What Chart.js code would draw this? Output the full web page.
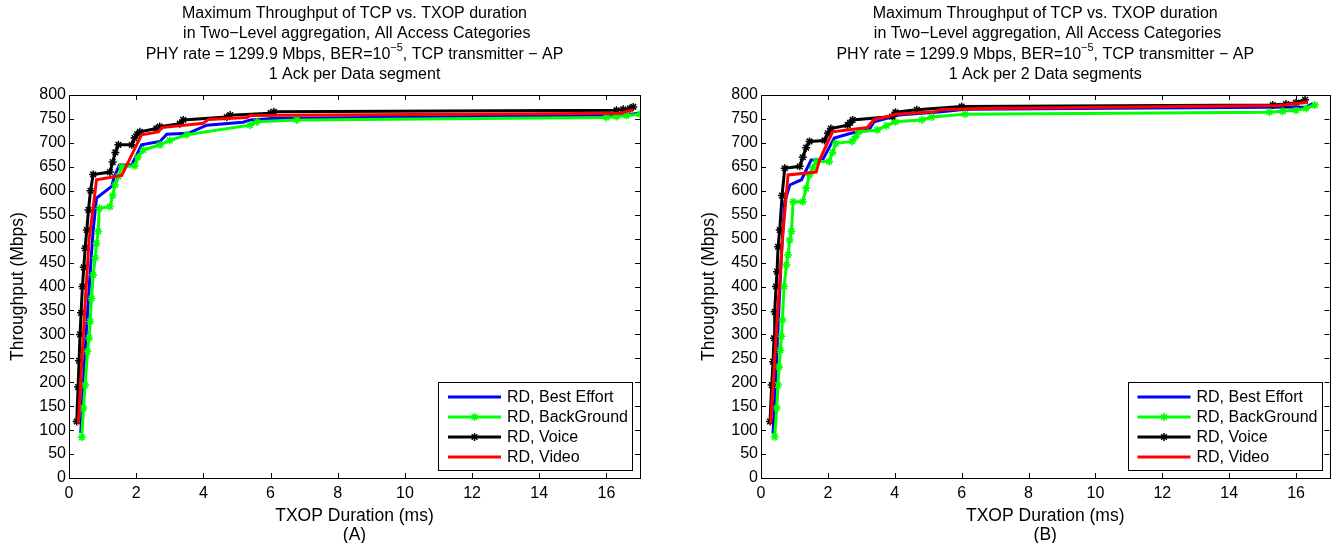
<!DOCTYPE html>
<html>
<head>
<meta charset="utf-8">
<script src="https://cdn.jsdelivr.net/npm/chart.js@4/dist/chart.umd.min.js"></script>
<style>
  html, body { margin: 0; padding: 0; background: #fff; }
  body { width: 1335px; height: 543px; position: relative; overflow: hidden; }
  .box { position: absolute; top: 0; }
</style>
</head>
<body>
<div class="box" style="left:0"><canvas id="chartA" width="660" height="543"></canvas></div>
<div class="box" style="left:680px"><canvas id="chartB" width="655" height="543"></canvas></div>
<script>
'use strict';

var seriesLabels = ['RD, Best Effort', 'RD, BackGround', 'RD, Voice', 'RD, Video'];
var seriesColors = ['#0000ff', '#00ff00', '#000000', '#ff0000'];
var seriesMarkers = [false, true, true, false];

// (A) 1 Ack per Data segment
var beX_A = [0.35, 0.50, 0.63, 0.72, 0.82, 1.27, 1.35, 1.50, 1.87, 2.16, 2.71, 2.91, 3.55, 4.10, 5.18, 5.40, 6.07, 16.5, 17.0];
var beY_A = [94, 290, 428, 518, 585, 609, 630, 654, 654, 696, 703, 718, 720, 737, 743, 748, 751, 758, 762];
var bgX_A = [0.38, 0.43, 0.48, 0.55, 0.60, 0.63, 0.67, 0.72, 0.78, 0.82, 0.87, 0.90, 1.22, 1.30, 1.37, 1.47, 1.57, 1.96, 2.05, 2.21, 2.71, 3.00, 3.50, 5.39, 5.59, 6.78, 16.0, 16.3, 16.6, 17.0];
var bgY_A = [85, 146, 194, 264, 292, 327, 375, 424, 460, 490, 515, 563, 567, 590, 612, 630, 650, 652, 670, 685, 696, 705, 717, 737, 744, 748, 753, 755, 757, 760];
var voX_A = [0.23, 0.27, 0.30, 0.33, 0.36, 0.40, 0.44, 0.48, 0.53, 0.58, 0.64, 0.72, 1.22, 1.30, 1.38, 1.47, 1.87, 1.95, 2.03, 2.11, 2.60, 2.70, 3.30, 3.40, 4.70, 4.80, 6.00, 6.10, 16.3, 16.5, 16.7, 16.8];
var voY_A = [118, 190, 245, 300, 345, 400, 440, 480, 518, 560, 600, 634, 639, 660, 680, 696, 696, 710, 718, 723, 730, 734, 740, 748, 754, 758, 762, 765, 768, 770, 772, 775];
var viX_A = [0.28, 0.45, 0.60, 0.63, 0.82, 1.57, 1.77, 2.16, 2.66, 2.76, 4.00, 4.15, 5.29, 5.39, 16.4, 16.8];
var viY_A = [114, 330, 500, 515, 623, 632, 661, 717, 723, 732, 741, 749, 753, 757, 762, 769];

// (B) 1 Ack per 2 Data segments
var beX_B = [0.36, 0.50, 0.62, 0.71, 0.86, 1.21, 1.50, 1.84, 2.19, 2.69, 3.23, 3.38, 4.12, 5.40, 6.10, 16.3, 16.5];
var beY_B = [93, 300, 480, 577, 612, 623, 664, 664, 710, 720, 727, 744, 758, 765, 770, 775, 782];
var bgX_B = [0.41, 0.47, 0.51, 0.54, 0.58, 0.61, 0.64, 0.69, 0.76, 0.81, 0.86, 0.91, 0.96, 1.25, 1.35, 1.45, 1.55, 1.65, 2.04, 2.14, 2.24, 2.73, 2.83, 2.93, 3.48, 3.75, 4.02, 4.81, 5.10, 6.10, 15.2, 15.6, 16.0, 16.3, 16.56];
var bgY_B = [86, 146, 194, 232, 267, 296, 330, 400, 445, 466, 497, 515, 577, 577, 605, 633, 648, 661, 661, 680, 699, 703, 713, 723, 727, 736, 744, 748, 754, 760, 764, 766, 768, 772, 779];
var voX_B = [0.27, 0.32, 0.36, 0.39, 0.41, 0.45, 0.48, 0.51, 0.56, 0.63, 0.71, 1.16, 1.25, 1.35, 1.45, 1.90, 2.00, 2.09, 2.59, 2.66, 2.74, 3.92, 4.02, 4.66, 6.00, 15.3, 15.7, 16.0, 16.27];
var voY_B = [118, 194, 243, 292, 347, 400, 431, 483, 518, 590, 647, 651, 670, 690, 703, 705, 720, 730, 737, 742, 748, 755, 764, 769, 776, 779, 781, 784, 790];
var viX_B = [0.29, 0.50, 0.66, 0.81, 1.65, 1.75, 2.14, 3.18, 3.38, 3.82, 4.02, 5.20, 5.35, 6.60, 15.5, 16.36];
var viY_B = [114, 350, 515, 633, 639, 664, 723, 732, 749, 755, 760, 765, 769, 772, 778, 785];

var FONT = '"Liberation Sans", Arial, Helvetica, sans-serif';

function pairs(xs, ys) {
  return xs.map(function (x, i) { return { x: x, y: ys[i] }; });
}

function buildDatasets(xsList, ysList) {
  return seriesLabels.map(function (label, i) {
    return {
      label: label,
      data: pairs(xsList[i], ysList[i]),
      borderColor: seriesColors[i],
      backgroundColor: seriesColors[i],
      borderWidth: 3,
      tension: 0,
      pointStyle: 'star',
      pointRadius: seriesMarkers[i] ? 4 : 0,
      pointBorderWidth: 1.5,
      order: 4 - i  // red drawn last, like MATLAB
    };
  });
}

// MATLAB style box with inward ticks on all sides
var frameTicks = {
  id: 'frameTicks',
  afterDatasetsDraw: function (chart) {
    var ctx = chart.ctx, a = chart.chartArea;
    var xs = chart.scales.x, ys = chart.scales.y, tl = 5;
    ctx.save();
    ctx.strokeStyle = '#000';
    ctx.lineWidth = 1;
    ctx.beginPath();
    xs.ticks.forEach(function (t) {
      var px = Math.round(xs.getPixelForValue(t.value)) + 0.5;
      ctx.moveTo(px, a.bottom); ctx.lineTo(px, a.bottom - tl);
      ctx.moveTo(px, a.top); ctx.lineTo(px, a.top + tl);
    });
    ys.ticks.forEach(function (t) {
      var py = Math.round(ys.getPixelForValue(t.value)) + 0.5;
      ctx.moveTo(a.left, py); ctx.lineTo(a.left + tl, py);
      ctx.moveTo(a.right, py); ctx.lineTo(a.right - tl, py);
    });
    ctx.stroke();
    ctx.strokeRect(Math.round(a.left) + 0.5, Math.round(a.top) + 0.5,
      Math.round(a.right - a.left), Math.round(a.bottom - a.top));
    ctx.restore();
  }
};

// four line title, with superscript in BER
var titleLines = {
  id: 'titleLines',
  afterDraw: function (chart, args, opts) {
    var ctx = chart.ctx, a = chart.chartArea;
    var cx = (a.left + a.right) / 2;
    var ys = [14, 34, 55, 75];
    var main = '16px ' + FONT, sup = '11px ' + FONT;
    ctx.save();
    ctx.fillStyle = '#000';
    ctx.textBaseline = 'middle';
    ctx.font = main;
    ctx.textAlign = 'center';
    ctx.fillText('Maximum Throughput of TCP vs. TXOP duration', cx, ys[0]);
    ctx.fillText(' in Two\u2212Level aggregation, All Access Categories', cx, ys[1]);
    ctx.fillText(opts.last, cx, ys[3]);

    var s1 = 'PHY rate = 1299.9 Mbps, BER=10', s2 = '\u22125', s3 = ', TCP transmitter \u2212 AP';
    ctx.font = main;
    var w1 = ctx.measureText(s1).width, w3 = ctx.measureText(s3).width;
    ctx.font = sup;
    var w2 = ctx.measureText(s2).width;
    var x = cx - (w1 + w2 + w3) / 2;
    ctx.textAlign = 'left';
    ctx.font = main;
    ctx.fillText(s1, x, ys[2]);
    ctx.font = sup;
    ctx.fillText(s2, x + w1, ys[2] - 7);
    ctx.font = main;
    ctx.fillText(s3, x + w1 + w2, ys[2]);
    ctx.restore();
  }
};

// legend box in the lower right corner of the plot area
var boxLegend = {
  id: 'boxLegend',
  afterDraw: function (chart) {
    var ctx = chart.ctx, a = chart.chartArea;
    var w = 194, h = 88;
    var left = a.right - 8 - w, top = a.bottom - 8 - h;
    ctx.save();
    ctx.fillStyle = '#fff';
    ctx.fillRect(left, top, w, h);
    ctx.strokeStyle = '#000';
    ctx.lineWidth = 1;
    ctx.strokeRect(Math.round(left) + 0.5, Math.round(top) + 0.5, w, h);
    ctx.font = '16px ' + FONT;
    ctx.textBaseline = 'middle';
    ctx.textAlign = 'left';
    chart.data.datasets.forEach(function (ds, i) {
      var y = top + 15 + i * 20;
      ctx.strokeStyle = ds.borderColor;
      ctx.lineWidth = 3;
      ctx.beginPath();
      ctx.moveTo(left + 10, y);
      ctx.lineTo(left + 63, y);
      ctx.stroke();
      if (ds.pointRadius > 0) {
        ctx.lineWidth = ds.pointBorderWidth;
        Chart.helpers.drawPoint(ctx, {
          pointStyle: 'star', radius: ds.pointRadius, borderWidth: ds.pointBorderWidth, rotation: 0
        }, left + 36.5, y);
      }
      ctx.fillStyle = '#000';
      ctx.fillText(ds.label, left + 69, y + 1);
    });
    ctx.restore();
  }
};

function makeChart(id, xsList, ysList, lastLine, letter, padRight, yAxisWidth, yTitlePad) {
  var ctx = document.getElementById(id).getContext('2d');
  return new Chart(ctx, {
    type: 'line',
    data: { datasets: buildDatasets(xsList, ysList) },
    options: {
      responsive: false,
      animation: false,
      devicePixelRatio: 1,
      layout: { padding: { top: 95, right: padRight, bottom: 0, left: 0 } },
      plugins: {
        legend: { display: false },
        tooltip: { enabled: false },
        titleLines: { last: lastLine }
      },
      scales: {
        x: {
          type: 'linear',
          min: 0,
          max: 17,
          grid: { display: false, drawTicks: false },
          border: { display: false },
          ticks: {
            stepSize: 2,
            includeBounds: false,
            color: '#000',
            padding: 6,
            maxRotation: 0,
            font: { family: FONT, size: 16 }
          },
          title: {
            display: true,
            text: ['TXOP Duration (ms)', letter],
            color: '#000',
            font: { family: FONT, size: 17.5, lineHeight: '19px' },
            padding: { top: 0, bottom: -1.5 }
          },
          afterFit: function (scale) { scale.height = 65; }
        },
        y: {
          type: 'linear',
          min: 0,
          max: 800,
          grid: { display: false, drawTicks: false },
          border: { display: false },
          ticks: {
            stepSize: 50,
            color: '#000',
            padding: 3,
            font: { family: FONT, size: 16 }
          },
          title: {
            display: true,
            text: 'Throughput (Mbps)',
            color: '#000',
            font: { family: FONT, size: 17.5, lineHeight: '19px' },
            padding: { top: yTitlePad, bottom: 0 }
          },
          afterFit: function (scale) { scale.width = yAxisWidth; }
        }
      }
    },
    plugins: [frameTicks, titleLines, boxLegend]
  });
}

makeChart('chartA',
  [beX_A, bgX_A, voX_A, viX_A], [beY_A, bgY_A, voY_A, viY_A],
  '1 Ack per Data segment', '(A)', 20, 69, 8.5);
makeChart('chartB',
  [beX_B, bgX_B, voX_B, viX_B], [beY_B, bgY_B, voY_B, viY_B],
  '1 Ack per 2 Data segments', '(B)', 2, 81, 19.5);
</script>
</body>
</html>
